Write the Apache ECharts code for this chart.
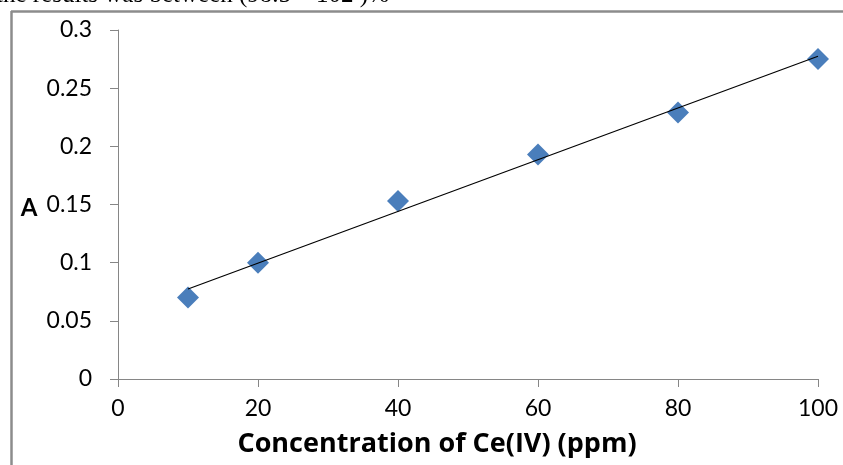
<!DOCTYPE html>
<html>
<head>
<meta charset="utf-8">
<title>Calibration curve of Ce(IV)</title>
<script src="https://cdn.jsdelivr.net/npm/echarts@6/dist/echarts.min.js"></script>
<style>
  html, body { margin: 0; padding: 0; background: #fff; }
  #chart { width: 843px; height: 465px; }
</style>
</head>
<body>
<div id="chart"></div>
<script>
// Concentration of Ce(IV) in ppm and measured absorbance
const concentrations = [10, 20, 40, 60, 80, 100];
const absorbance = [0.070, 0.100, 0.153, 0.193, 0.229, 0.275];
const xTicks = [0, 20, 40, 60, 80, 100];
const yTicks = [0, 0.05, 0.1, 0.15, 0.2, 0.25, 0.3];

// Least-squares trend line through the measured points
function linearFit(xs, ys) {
  const n = xs.length;
  const mx = xs.reduce((a, b) => a + b, 0) / n;
  const my = ys.reduce((a, b) => a + b, 0) / n;
  let sxy = 0, sxx = 0;
  for (let i = 0; i < n; i++) {
    sxy += (xs[i] - mx) * (ys[i] - my);
    sxx += (xs[i] - mx) * (xs[i] - mx);
  }
  const slope = sxy / sxx;
  return { slope, intercept: my - slope * mx };
}
const fit = linearFit(concentrations, absorbance);
const xFirst = concentrations[0];
const xLast = concentrations[concentrations.length - 1];
const trend = [
  [xFirst, fit.intercept + fit.slope * xFirst],
  [xLast, fit.intercept + fit.slope * xLast]
];

const labelFont = 'Lato, "Open Sans", sans-serif';
const titleFont = '"Open Sans", Lato, sans-serif';
const axisGray = '#868686';

const chart = echarts.init(document.getElementById('chart'), null, { renderer: 'canvas' });
chart.setOption({
  animation: false,
  backgroundColor: '#ffffff',
  grid: { left: 118, right: 25, top: 30, bottom: 86, containLabel: false },
  xAxis: {
    type: 'value',
    min: xTicks[0],
    max: xTicks[xTicks.length - 1],
    interval: xTicks[1] - xTicks[0],
    axisLine: { show: true, lineStyle: { color: axisGray, width: 1 } },
    axisTick: { show: true, inside: false, length: 8, lineStyle: { color: axisGray } },
    splitLine: { show: false },
    axisLabel: { color: '#000', fontFamily: labelFont, fontSize: 23, margin: 18 }
  },
  yAxis: {
    type: 'value',
    min: yTicks[0],
    max: yTicks[yTicks.length - 1],
    interval: yTicks[1] - yTicks[0],
    axisLine: { show: true, lineStyle: { color: axisGray, width: 1 } },
    axisTick: { show: true, inside: false, length: 8, lineStyle: { color: axisGray } },
    splitLine: { show: false },
    axisLabel: {
      color: '#000', fontFamily: labelFont, fontSize: 23, margin: 26,
      formatter: v => String(parseFloat(v.toFixed(2)))
    }
  },
  series: [
    {
      type: 'scatter',
      data: concentrations.map((c, i) => [c, absorbance[i]]),
      symbol: 'diamond',
      symbolSize: 22,
      itemStyle: { color: '#4a7ebb', opacity: 1 },
      emphasis: { disabled: true },
      z: 2
    },
    {
      type: 'line',
      data: trend,
      showSymbol: false,
      symbol: 'none',
      lineStyle: { color: '#000', width: 1.2 },
      emphasis: { disabled: true },
      z: 3
    }
  ],
  graphic: [
    {
      type: 'text',
      left: -4, top: -17,
      style: {
        text: 'the results was between (98.5 \u2013 102 )%',
        font: '25px "Liberation Serif", "DejaVu Serif", serif',
        fill: '#000'
      },
      z: 1
    },
    {
      type: 'line',
      shape: { x1: 11, y1: 11.5, x2: 843, y2: 11.5 },
      style: { stroke: '#8c8c8c', lineWidth: 2.5 }
    },
    {
      type: 'line',
      shape: { x1: 11.5, y1: 11, x2: 11.5, y2: 465 },
      style: { stroke: '#8c8c8c', lineWidth: 2.5 }
    },
    {
      type: 'text',
      x: 29, y: 208,
      style: {
        text: 'A',
        font: 'bold 24px ' + labelFont,
        fill: '#000',
        align: 'center',
        verticalAlign: 'middle'
      }
    },
    {
      type: 'text',
      x: 437, y: 444,
      style: {
        text: 'Concentration of Ce(IV) (ppm)',
        font: 'bold 27px ' + titleFont,
        fill: '#000',
        align: 'center',
        verticalAlign: 'middle'
      }
    }
  ]
});
</script>
</body>
</html>
